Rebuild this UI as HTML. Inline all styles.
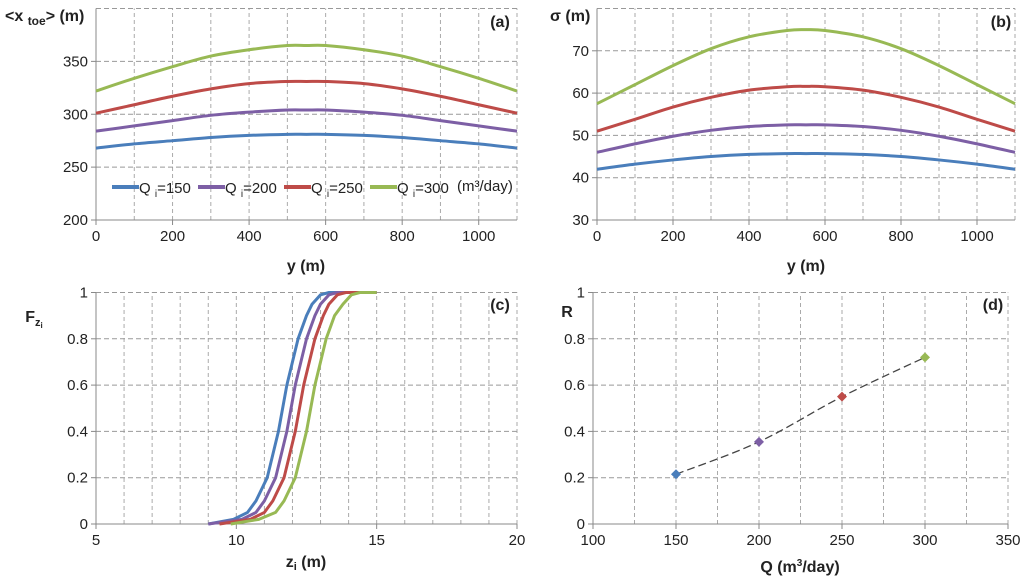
<!DOCTYPE html>
<html><head><meta charset="utf-8"><style>
body{margin:0;background:#fff;}
svg{display:block;font-family:"Liberation Sans",sans-serif;}
.t{font-size:15px;fill:#222;}
.b{font-size:16px;font-weight:bold;fill:#222;}
</style></head><body>
<svg id="c" width="1024" height="578"></svg>
<script>
const yPos = [0,100,200,300,400,500,550,600,700,800,900,1000,1100];
const xtoe150 = [268,272,275,278,280,281,281,281,280,278,275,272,268];
const xtoe200 = [284,289,294,299,302,304,304,304,302,299,294,289,284];
const xtoe250 = [301,309,317,324,329,331,331,331,329,324,317,309,301];
const xtoe300 = [322,334,345,355,361,365,365,365,361,355,345,334,322];
const sig150 = [42,43.2,44.2,45,45.5,45.7,45.7,45.7,45.5,45,44.2,43.2,42];
const sig200 = [46,48,49.8,51.2,52.1,52.5,52.5,52.5,52.1,51.2,49.8,48,46];
const sig250 = [51,53.8,56.7,59,60.7,61.5,61.6,61.5,60.7,59,56.7,53.8,51];
const sig300 = [57.5,62,66.5,70.5,73.3,74.8,75,74.8,73.3,70.5,66.5,62,57.5];
const fLevels = [0,0.02,0.05,0.1,0.2,0.3,0.4,0.5,0.6,0.7,0.8,0.9,0.95,0.99,1,1];
const z150 = [9.0,9.9,10.4,10.7,11.1,11.3,11.5,11.65,11.8,12.0,12.2,12.5,12.7,13.0,13.3,15];
const z200 = [9.0,10.2,10.7,11.0,11.4,11.6,11.8,11.95,12.1,12.3,12.5,12.8,13.0,13.3,13.6,15];
const z250 = [9.4,10.5,11.0,11.3,11.7,11.9,12.1,12.25,12.4,12.6,12.8,13.1,13.3,13.6,13.9,15];
const z300 = [9.8,10.8,11.4,11.7,12.1,12.3,12.5,12.65,12.8,13.0,13.2,13.5,13.8,14.1,14.4,15];
const qValues = [150,200,250,300];
const rValues = [0.215,0.355,0.55,0.72];
const colors = ['#4a7ebb','#7d5fa5','#be4b48','#98b954'];
const names = ['Q150','Q200','Q250','Q300'];

const svg = document.getElementById('c');
const NS = 'http://www.w3.org/2000/svg';
function mk(tag, attrs, parent){const e=document.createElementNS(NS,tag);for(const k in attrs)e.setAttribute(k,attrs[k]);(parent||svg).appendChild(e);return e;}
function txt(x,y,s,cls,anchor,name){const e=mk('text',{x:x,y:y,'class':cls,'text-anchor':anchor||'middle'});e.textContent=s;


return e;}
function smooth(pts){
  let d='M'+pts[0][0]+','+pts[0][1];
  for(let i=0;i<pts.length-1;i++){
    const p0=pts[Math.max(0,i-1)],p1=pts[i],p2=pts[i+1],p3=pts[Math.min(pts.length-1,i+2)];
    const t=1/6;
    d+=' C'+(p1[0]+(p2[0]-p0[0])*t)+','+(p1[1]+(p2[1]-p0[1])*t)+' '+(p2[0]-(p3[0]-p1[0])*t)+','+(p2[1]-(p3[1]-p1[1])*t)+' '+p2[0]+','+p2[1];
  }
  return d;
}

function panel(p){
  const g=mk('g',{});
  
  
  const sx=v=>p.x0+(v-p.xmin)/(p.xmax-p.xmin)*(p.x1-p.x0);
  const sy=v=>p.y0+(v-p.ymin)/(p.ymax-p.ymin)*(p.y1-p.y0);
  for(let v=p.xmin+p.xg; v<=p.xmax+1e-9; v+=p.xg){
    const l=mk('line',{x1:sx(v),x2:sx(v),y1:p.y0,y2:p.y1,stroke:'#aaa','stroke-dasharray':'4,3','stroke-width':1},g);
    
    
  }
  for(let v=p.ymin+p.yg; v<=p.ymax+1e-9; v+=p.yg){
    const l=mk('line',{x1:p.x0,x2:p.x1,y1:sy(v),y2:sy(v),stroke:'#999','stroke-dasharray':'5,3','stroke-width':1},g);
    
    
  }
  mk('line',{x1:p.x0,x2:p.x0,y1:p.y0+5,y2:p.y1,stroke:'#888'},g);
  mk('line',{x1:p.x0-5,x2:p.x1,y1:p.y0,y2:p.y0,stroke:'#888'},g);
  p.xticks.forEach(v=>{mk('line',{x1:sx(v),x2:sx(v),y1:p.y0,y2:p.y0+5,stroke:'#888'},g);txt(sx(v),p.y0+21,p.xfmt(v),'t','middle','x-tick-label');});
  p.yticks.forEach(v=>{mk('line',{x1:p.x0-5,x2:p.x0,y1:sy(v),y2:sy(v),stroke:'#888'},g);txt(p.x0-8,sy(v)+5,p.yfmt(v),'t','end','y-tick-label');});
  return {sx,sy,g};
}
function range(a,b,s){const r=[];for(let v=a;v<=b+1e-9;v+=s)r.push(+v.toFixed(6));return r;}
const fmt=v=>String(+v.toFixed(1));

// (a)
let A=panel({name:'panel-a',x0:96,x1:517,y0:220,y1:8.5,xmin:0,xmax:1100,ymin:200,ymax:400,xg:100,yg:50,xticks:range(0,1000,200),yticks:range(200,350,50),xfmt:fmt,yfmt:fmt});
[xtoe150,xtoe200,xtoe250,xtoe300].forEach((s,i)=>{const pl=mk('path',{d:smooth(s.map((v,j)=>[A.sx(yPos[j]),A.sy(v)])),fill:'none',stroke:colors[i],'stroke-width':3});

});
// (b)
let B=panel({name:'panel-b',x0:597,x1:1015,y0:220,y1:8.5,xmin:0,xmax:1100,ymin:30,ymax:80,xg:100,yg:10,xticks:range(0,1000,200),yticks:range(30,70,10),xfmt:fmt,yfmt:fmt});
[sig150,sig200,sig250,sig300].forEach((s,i)=>{const pl=mk('path',{d:smooth(s.map((v,j)=>[B.sx(yPos[j]),B.sy(v)])),fill:'none',stroke:colors[i],'stroke-width':3});

});
// (c)
let C=panel({name:'panel-c',x0:96,x1:517,y0:524,y1:292.5,xmin:5,xmax:20,ymin:0,ymax:1,xg:1,yg:0.2,xticks:range(5,20,5),yticks:range(0,1,0.2),xfmt:fmt,yfmt:fmt});
[z150,z200,z250,z300].forEach((s,i)=>{const pl=mk('polyline',{points:s.map((v,j)=>C.sx(v)+','+C.sy(fLevels[j])).join(' '),fill:'none',stroke:colors[i],'stroke-width':3,'stroke-linejoin':'round'});

});
// (d)
let D=panel({name:'panel-d',x0:593,x1:1008,y0:524,y1:292.5,xmin:100,xmax:350,ymin:0,ymax:1,xg:25,yg:0.2,xticks:range(100,350,50),yticks:range(0,1,0.2),xfmt:fmt,yfmt:fmt});
const tl=mk('path',{d:smooth(qValues.map((q,i)=>[D.sx(q),D.sy(rValues[i])])),fill:'none',stroke:'#444','stroke-width':1.3,'stroke-dasharray':'8,4'});


qValues.forEach((q,i)=>{const x=D.sx(q),y=D.sy(rValues[i]);const m=mk('polygon',{points:`${x},${y-5} ${x+5},${y} ${x},${y+5} ${x-5},${y}`,fill:colors[i]});

});

// titles
txt(306,271,'y (m)','b','middle','x-axis-title-a');
txt(806,271,'y (m)','b','middle','x-axis-title-b');
txt(306,567,'','b','middle','x-axis-title-c').innerHTML='z<tspan font-size="11" dy="3">i</tspan><tspan dy="-3"> (m)</tspan>';
txt(800,572,'','b','middle','x-axis-title-d').innerHTML='Q (m<tspan font-size="10" dy="-6">3</tspan><tspan dy="6">/day)</tspan>';
txt(5,21,'','b','start','y-axis-title-a').innerHTML='&lt;x <tspan font-size="12" dy="4">toe</tspan><tspan dy="-4">&gt; (m)</tspan>';
txt(550,21,'σ (m)','b','start','y-axis-title-b');
txt(34,322,'','b','middle','y-axis-title-c').innerHTML='F<tspan font-size="11" dy="4">z</tspan><tspan font-size="8" dy="2">i</tspan>';
txt(567,317,'R','b','middle','y-axis-title-d');
txt(500,27,'(a)','b','middle','panel-label-a');
txt(1001,27,'(b)','b','middle','panel-label-b');
txt(500,310,'(c)','b','middle','panel-label-c');
txt(993,310,'(d)','b','middle','panel-label-d');

// legend
const lx=[112,198,284,370], lab=['150','200','250','300'];
lx.forEach((x,i)=>{const l=mk('line',{x1:x,x2:x+27,y1:187,y2:187,stroke:colors[i],'stroke-width':4});


txt(x+27,193,'','t','start','legend-entry-'+names[i]).innerHTML='Q <tspan font-size="10" dy="4">i</tspan><tspan dy="-4">='+lab[i]+'</tspan>';});
txt(457,191,'(m³/day)','t','start','legend-units').setAttribute('font-size','13');
</script>
</body></html>
